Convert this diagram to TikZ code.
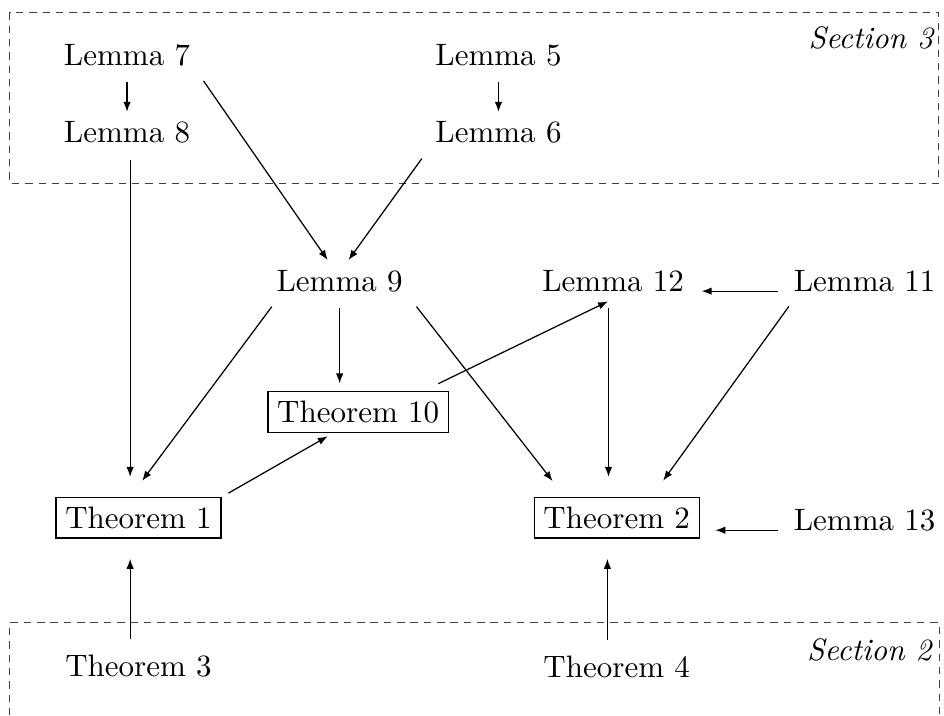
\documentclass[tikz,border=0pt]{standalone}
\usetikzlibrary{arrows.meta}
\begin{document}
\begin{tikzpicture}[>={Latex[length=3.2pt,width=2.4pt]}]
\tikzset{
    res/.style={inner sep=3pt},
    thm/.style={res, draw},
    arr/.style={->, shorten <=2pt},
    sect/.style={black!75, line width=0.35pt, dash pattern=on 2.4pt off 1.9pt},
}
\useasboundingbox (0,0) rectangle (10.70,8.11);

% The two sections first.
\draw[sect] (0.11,7.97) rectangle (10.64,6.03);
\draw[sect] (0.11,0) |- (10.65,1.05) -- (10.65,0);
\node[anchor=base east, inner sep=0pt] (sec3) at (10.60,7.56) {\textit{Section 3}};
\node[anchor=base east, inner sep=0pt] (sec2) at (10.58,0.62) {\textit{Section 2}};

% Results, row by row.
\node[res, anchor=base] (l7)  at (1.44,7.37) {Lemma 7};
\node[res, anchor=base] (l5)  at (5.65,7.37) {Lemma 5};
\node[res, anchor=base] (l8)  at (1.44,6.49) {Lemma 8};
\node[res, anchor=base] (l6)  at (5.65,6.49) {Lemma 6};
\node[res, anchor=base] (l9)  at (3.85,4.81) {Lemma 9};
\node[res, anchor=base] (l12) at (6.95,4.81) {Lemma 12};
\node[res, anchor=base] (l11) at (9.80,4.81) {Lemma 11};
\node[thm, anchor=base] (t10) at (4.06,3.32) {Theorem 10};
\node[thm, anchor=base] (t1)  at (1.57,2.12) {Theorem 1};
\node[thm, anchor=base] (t2)  at (6.99,2.12) {Theorem 2};
\node[res, anchor=base] (l13) at (9.80,2.10) {Lemma 13};
\node[res, anchor=base] (t3)  at (1.57,0.44) {Theorem 3};
\node[res, anchor=base] (t4)  at (6.99,0.43) {Theorem 4};

% Dependencies.
\draw[arr] (l7) -- (l8);
\draw[arr] (l5) -- (l6);
\draw[arr] (l7.south east) -- (l9.120);
\draw[arr] (l6.south west) -- (l9.67);
\draw[arr, shorten >=6.5pt] ([xshift=1pt]l8.south) -- ([xshift=1pt]l8.south |- t1.north);
\draw[arr, shorten >=6.5pt] (l9.-162) -- (t1.112);
\draw[arr, shorten >=2.5pt] (l9) -- (l9 |- t10.north);
\draw[arr, shorten >=6.5pt] (l9.south east) -- (t2.158);
\draw[arr, shorten <=2.5pt, shorten >=2pt] (t1.north east) -- (t10.-140);
\draw[arr, shorten <=5.5pt] (t10.18) -- (l12.-104);
\draw[arr, shorten >=2.5pt] (l11.base west) -- (l12.base east);
\draw[arr, shorten >=6.5pt] ([xshift=-1.5pt]l12.south) -- ([xshift=-1.5pt]l12.south |- t2.north);
\draw[arr, shorten >=6.5pt] (l11.-164) -- (t2.31);
\draw[arr, shorten >=5pt] (l13.base west) -- (l13.base west -| t2.east);
\draw[arr, shorten >=6.5pt] ([xshift=-2.7pt]t3.north) -- ([xshift=-2.7pt]t1.south);
\draw[arr, shorten >=6.5pt] ([xshift=-3pt]t4.north) -- ([xshift=-3pt]t2.south);
\end{tikzpicture}
\end{document}
